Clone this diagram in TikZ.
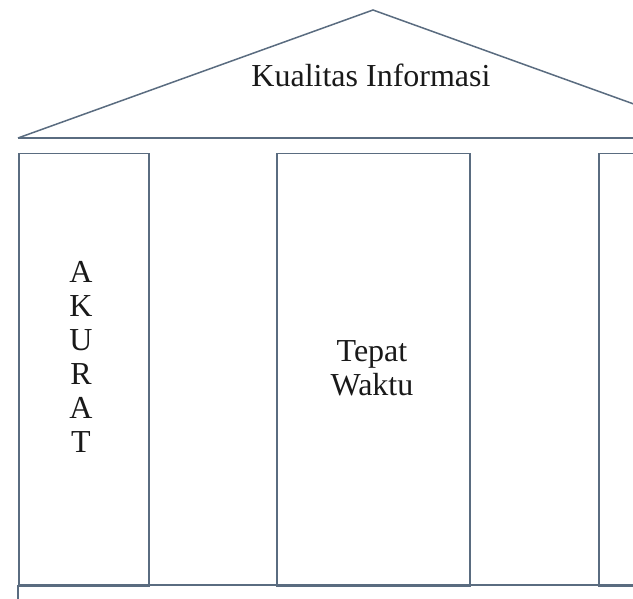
\documentclass[tikz,border=0pt]{standalone}
\usepackage{fontspec}
\setmainfont{Liberation Serif}
\definecolor{edge}{RGB}{90,108,128}
\definecolor{ink}{RGB}{25,25,25}
\begin{document}
\begin{tikzpicture}[x=1pt,y=-1pt,
  line/.style={draw=edge,line width=1.5pt},
  pillar/.style={line,rectangle,inner sep=0pt,minimum height=432pt,anchor=north west},
  label/.style={text=ink,font=\fontsize{32}{34}\selectfont,align=center}]
\useasboundingbox (0,0) rectangle (633,599);
\clip (0,0) rectangle (633,599);
\fill[white] (0,0) rectangle (633,599);
% roof
\coordinate (rl) at (18,138);
\coordinate (apex) at (373,10);
\coordinate (rr) at (728,138);
\coordinate (re) at (633,138);
\draw[line] (rl) -- (apex) -- (rr);
\draw[line] (rl) -- (re);
\node[label,anchor=base] (title) at (371,87) {Kualitas Informasi};
% pillars
\node[pillar,minimum width=130pt] (p1) at (18,153) {};
\node[pillar,minimum width=193pt] (p2) at (276,153) {};
\node[pillar,minimum width=193pt] (p3) at (598,153) {};
\node[label] (akurat) at (81,357) {A\\K\\U\\R\\A\\T};
\node[label] (tepat) at (372,368) {Tepat\\Waktu};
% base
\coordinate (bl) at (18,585);
\coordinate (br) at (633,585);
\coordinate (bb) at (18,599);
\draw[line] (bl) -- (br);
\draw[line] (bl) -- (bb);
\end{tikzpicture}
\end{document}
